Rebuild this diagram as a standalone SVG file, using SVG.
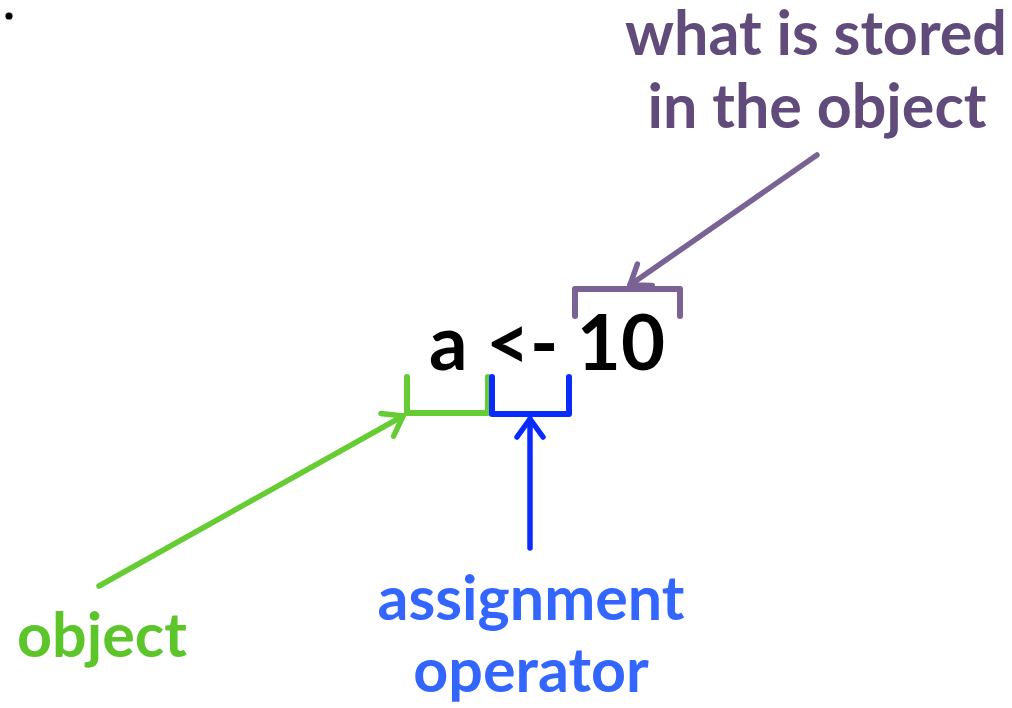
<svg xmlns="http://www.w3.org/2000/svg" width="1012" height="708" viewBox="0 0 1012 708">
<style>
text{font-family:Lato,"Open Sans","Liberation Sans",sans-serif;font-weight:bold;}
.br{fill:none;stroke-width:6;stroke-linecap:round;stroke-linejoin:round;}
.ar{fill:none;stroke-width:5.5;stroke-linecap:round;}
</style>
<defs>
<marker id="hg" viewBox="-22 -16 26 32" markerWidth="26" markerHeight="32" refX="0" refY="0" orient="auto" markerUnits="userSpaceOnUse">
<path d="M-18,-13 L0,0 L-18,13" fill="none" stroke="#66cc33" stroke-width="5.5" stroke-linecap="round" stroke-linejoin="round"/>
</marker>
<marker id="hb" viewBox="-22 -16 26 32" markerWidth="26" markerHeight="32" refX="0" refY="0" orient="auto" markerUnits="userSpaceOnUse">
<path d="M-18,-13 L0,0 L-18,13" fill="none" stroke="#0a2bff" stroke-width="5.5" stroke-linecap="round" stroke-linejoin="round"/>
</marker>
<marker id="hp" viewBox="-22 -16 26 32" markerWidth="26" markerHeight="32" refX="0" refY="0" orient="auto" markerUnits="userSpaceOnUse">
<path d="M-18,-13 L0,0 L-18,13" fill="none" stroke="#7a6394" stroke-width="5.5" stroke-linecap="round" stroke-linejoin="round"/>
</marker>
</defs>
<rect width="1012" height="708" fill="#fff"/>
<circle cx="9" cy="16" r="3.6" fill="#000"/>
<g id="code">
<text x="547" y="370" font-size="76" text-anchor="middle" fill="#000">a &lt;- 10</text>
</g>
<g id="brackets">
<path class="br" stroke="#66cc33" d="M407,377 V413 H488 V377"/>
<path class="br" stroke="#0a2bff" d="M492,377 V414 H569 V377"/>
<path class="br" stroke="#7a6394" d="M575,316 V289 H680 V316"/>
</g>
<g id="connectors">
<line class="ar" stroke="#66cc33" x1="99" y1="586" x2="403" y2="416" marker-end="url(#hg)"/>
<line class="ar" stroke="#0a2bff" x1="530" y1="548" x2="530" y2="419" marker-end="url(#hb)"/>
<line class="ar" stroke="#7a6394" x1="817" y1="155" x2="630" y2="285" marker-end="url(#hp)"/>
</g>
<g id="label-stored">
<text x="816" y="55" font-size="61" text-anchor="middle" fill="#614b7b">what is stored</text>
<text x="817" y="128" font-size="61" text-anchor="middle" fill="#614b7b">in the object</text>
</g>
<g id="label-object">
<text x="102" y="657" font-size="61" text-anchor="middle" fill="#5cc52a">object</text>
</g>
<g id="label-assign">
<text x="531" y="620" font-size="61" text-anchor="middle" fill="#3366ff">assignment</text>
<text x="531" y="692" font-size="61" text-anchor="middle" fill="#3366ff">operator</text>
</g>
</svg>
